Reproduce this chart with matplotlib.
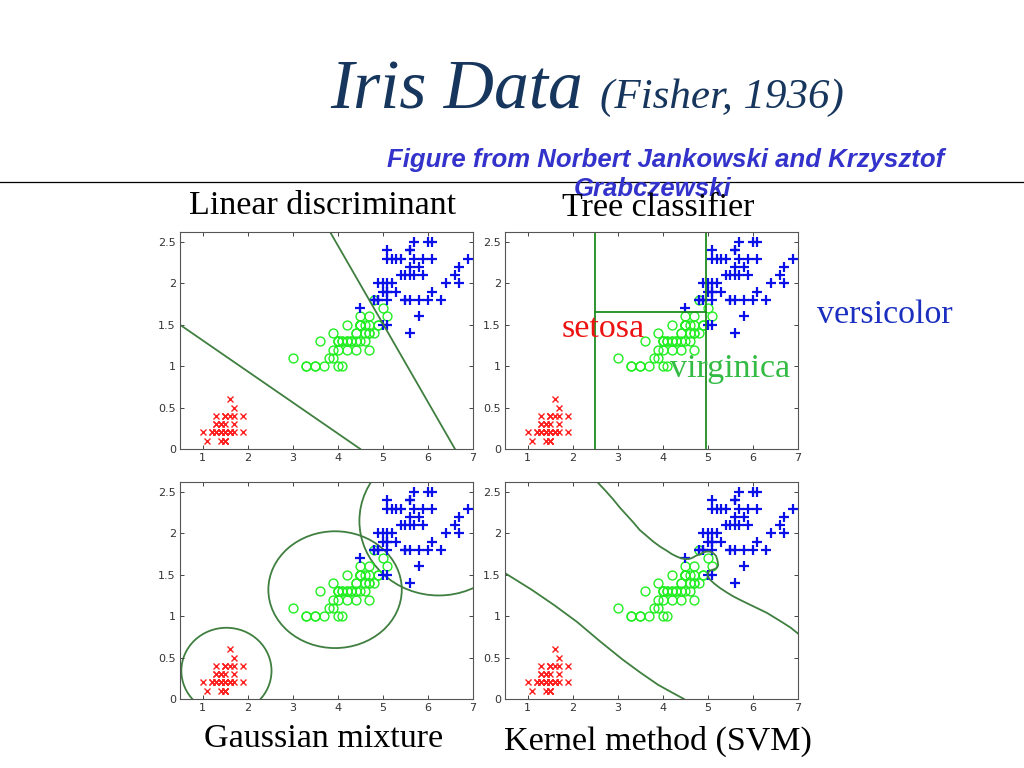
import matplotlib
matplotlib.use("Agg")
import matplotlib.pyplot as plt
from matplotlib.patches import Ellipse

# ---------------- data: Iris petal length / width ----------------
setosa_len = [1.4,1.4,1.3,1.5,1.4,1.7,1.4,1.5,1.4,1.5,1.5,1.6,1.4,1.1,1.2,1.5,1.3,1.4,1.7,1.5,
              1.7,1.5,1.0,1.7,1.9,1.6,1.6,1.5,1.4,1.6,1.6,1.5,1.5,1.4,1.5,1.2,1.3,1.5,1.3,1.5,
              1.3,1.3,1.3,1.6,1.9,1.4,1.6,1.4,1.5,1.4]
setosa_wid = [0.2,0.2,0.2,0.2,0.2,0.4,0.3,0.2,0.2,0.1,0.2,0.2,0.1,0.1,0.2,0.4,0.4,0.3,0.3,0.3,
              0.2,0.4,0.2,0.5,0.2,0.2,0.4,0.2,0.2,0.2,0.2,0.4,0.1,0.2,0.1,0.2,0.2,0.1,0.2,0.2,
              0.3,0.3,0.2,0.6,0.4,0.3,0.2,0.2,0.2,0.2]
versi_len = [4.7,4.5,4.9,4.0,4.6,4.5,4.7,3.3,4.6,3.9,3.5,4.2,4.0,4.7,3.6,4.4,4.5,4.1,4.5,3.9,
             4.8,4.0,4.9,4.7,4.3,4.4,4.8,5.0,4.5,3.5,3.8,3.7,3.9,5.1,4.5,4.5,4.7,4.4,4.1,4.0,
             4.4,4.6,4.0,3.3,4.2,4.2,4.2,4.3,3.0,4.1]
versi_wid = [1.4,1.5,1.5,1.3,1.5,1.3,1.6,1.0,1.3,1.4,1.0,1.5,1.0,1.4,1.3,1.4,1.5,1.0,1.5,1.1,
             1.8,1.3,1.5,1.2,1.3,1.4,1.4,1.7,1.5,1.0,1.1,1.0,1.2,1.6,1.5,1.6,1.5,1.3,1.3,1.3,
             1.2,1.4,1.2,1.0,1.3,1.2,1.3,1.3,1.1,1.3]
virg_len = [6.0,5.1,5.9,5.6,5.8,6.6,4.5,6.3,5.8,6.1,5.1,5.3,5.5,5.0,5.1,5.3,5.5,6.7,6.9,5.0,
            5.7,4.9,6.7,4.9,5.7,6.0,4.8,4.9,5.6,5.8,6.1,6.4,5.6,5.1,5.6,6.1,5.6,5.5,4.8,5.4,
            5.6,5.1,5.1,5.9,5.7,5.2,5.0,5.2,5.4,5.1]
virg_wid = [2.5,1.9,2.1,1.8,2.2,2.1,1.7,1.8,1.8,2.5,2.0,1.9,2.1,2.0,2.4,2.3,1.8,2.2,2.3,1.5,
            2.3,2.0,2.0,1.8,2.1,1.8,1.8,1.8,2.1,1.6,1.9,2.0,2.2,1.5,1.4,2.3,2.4,1.8,1.8,2.1,
            2.4,2.3,1.9,2.3,2.5,2.3,1.9,2.0,2.3,1.8]

# ---------------- decision boundaries ----------------
lin_b1_x = [0.5, 4.5]
lin_b1_y = [1.5, 0.0]
lin_b2_x = [3.83, 6.6]
lin_b2_y = [2.62, 0.0]

tree_v1_x = [2.5, 2.5]
tree_v1_y = [0.0, 2.62]
tree_v2_x = [4.95, 4.95]
tree_v2_y = [0.0, 2.62]
tree_h_x = [2.5, 4.95]
tree_h_y = [1.65, 1.65]

gmm_cx = [1.53, 3.94, 6.24]
gmm_cy = [0.34, 1.32, 2.15]
gmm_w = [2.0, 2.96, 3.52]
gmm_h = [1.04, 1.41, 1.80]

svm_b1_x = [0.5, 1.09, 1.6, 2.1, 2.6, 3.1, 3.5, 3.9, 4.2, 4.47]
svm_b1_y = [1.52, 1.32, 1.13, 0.93, 0.70, 0.48, 0.32, 0.17, 0.08, 0.0]
svm_b2_x = [2.53, 2.72, 2.90, 3.05, 3.20, 3.35, 3.49, 3.64, 3.79, 3.94, 4.09, 4.20, 4.31,
            4.40, 4.49, 4.57, 4.64, 4.74, 4.83, 4.90, 4.97, 5.05, 5.12, 5.18, 5.21, 5.23,
            5.21, 5.16, 5.10, 5.05, 5.01, 4.99, 5.01, 5.05, 5.15, 5.27, 5.41, 5.56, 5.74,
            5.93, 6.12, 6.31, 6.49, 6.67, 6.84, 7.0]
svm_b2_y = [2.63, 2.52, 2.41, 2.31, 2.22, 2.13, 2.04, 1.97, 1.90, 1.84, 1.79, 1.75, 1.72,
            1.70, 1.69, 1.69, 1.70, 1.73, 1.75, 1.77, 1.78, 1.78, 1.76, 1.73, 1.68, 1.62,
            1.59, 1.57, 1.56, 1.55, 1.53, 1.50, 1.47, 1.44, 1.39, 1.34, 1.29, 1.24, 1.19,
            1.14, 1.09, 1.04, 0.98, 0.92, 0.86, 0.79]

x_ticks = [1, 2, 3, 4, 5, 6, 7]
y_ticks = [0, 0.5, 1, 1.5, 2, 2.5]
y_ticklabels = ["0", "0.5", "1", "1.5", "2", "2.5"]

panel_titles = ["Linear discriminant", "Tree classifier", "Gaussian mixture", "Kernel method (SVM)"]

# ---------------- styling ----------------
W, H = 1024, 768
fig = plt.figure(figsize=(W / 100, H / 100), dpi=100)
fig.patch.set_facecolor("white")

RED = "#ff2020"
GREEN = "#22ee22"
BLUE = "#0a10e8"
BND = "#3f7f3f"
TREE = "#1e8c1e"


def px_axes(left, top, right, bottom):
    return fig.add_axes([left / W, 1 - bottom / H, (right - left) / W, (bottom - top) / H])


def setup(ax):
    ax.plot(setosa_len, setosa_wid, linestyle="none", marker="x", color=RED, ms=4.2, mew=1.0)
    ax.plot(versi_len, versi_wid, linestyle="none", marker="o", mfc="none", mec=GREEN, ms=6.4, mew=1.0)
    ax.plot(virg_len, virg_wid, linestyle="none", marker="+", color=BLUE, ms=7.0, mew=1.6)
    ax.set_xlim(0.5, 7)
    ax.set_ylim(0, 2.62)
    ax.set_xticks(x_ticks)
    ax.set_yticks(y_ticks)
    ax.set_yticklabels(y_ticklabels)
    ax.tick_params(direction="in", top=True, right=True, length=3, width=0.7,
                   labelsize=8, labelcolor="#333333", color="#444444", pad=3)
    for s in ax.spines.values():
        s.set_color("#555555")
        s.set_linewidth(0.8)


ax1 = px_axes(180, 232, 473, 449)
ax2 = px_axes(505, 232, 798, 449)
ax3 = px_axes(180, 482, 473, 699)
ax4 = px_axes(505, 482, 798, 699)

for ax in (ax1, ax2, ax3, ax4):
    setup(ax)

ax1.plot(lin_b1_x, lin_b1_y, color=BND, lw=1.3)
ax1.plot(lin_b2_x, lin_b2_y, color=BND, lw=1.3)

ax2.plot(tree_v1_x, tree_v1_y, color=TREE, lw=1.3)
ax2.plot(tree_v2_x, tree_v2_y, color=TREE, lw=1.3)
ax2.plot(tree_h_x, tree_h_y, color=TREE, lw=1.3)

for cx, cy, w, h in zip(gmm_cx, gmm_cy, gmm_w, gmm_h):
    ax3.add_patch(Ellipse((cx, cy), w, h, fill=False, edgecolor=BND, lw=1.3))

ax4.plot(svm_b1_x, svm_b1_y, color=BND, lw=1.3, solid_joinstyle="round")
ax4.plot(svm_b2_x, svm_b2_y, color=BND, lw=1.3, solid_joinstyle="round")

# ---------------- slide texts ----------------
TITLE_C = "#17365d"
fig.text(330 / W, 1 - 92 / H, "Iris Data", fontsize=50, style="italic",
         family="Liberation Serif", color=TITLE_C, ha="left", va="center")
fig.text(600 / W, 1 - 98 / H, "(Fisher, 1936)", fontsize=31, style="italic",
         family="Liberation Serif", color=TITLE_C, ha="left", va="center")

fig.text(666 / W, 1 - 160 / H, "Figure from Norbert Jankowski and Krzysztof",
         fontsize=18.5, style="italic", weight="bold", family="Liberation Sans",
         color="#3333cc", ha="center", va="center")
fig.text(653 / W, 1 - 189 / H, "Grabczewski",
         fontsize=18.5, style="italic", weight="bold", family="Liberation Sans",
         color="#3333cc", ha="center", va="center")

fig.add_artist(plt.Line2D([0, 1], [1 - 182 / H, 1 - 182 / H], color="black", lw=0.9))

SERIF = 24.5
fig.text(323 / W, 1 - 206 / H, panel_titles[0], fontsize=SERIF, family="Liberation Serif",
         ha="center", va="center", color="black")
fig.text(658 / W, 1 - 208 / H, panel_titles[1], fontsize=SERIF, family="Liberation Serif",
         ha="center", va="center", color="black")
fig.text(324 / W, 1 - 739 / H, panel_titles[2], fontsize=SERIF, family="Liberation Serif",
         ha="center", va="center", color="black")
fig.text(658 / W, 1 - 741 / H, panel_titles[3], fontsize=SERIF, family="Liberation Serif",
         ha="center", va="center", color="black")

fig.text(603 / W, 1 - 329 / H, "setosa", fontsize=SERIF, family="Liberation Serif",
         ha="center", va="center", color="#ee1111")
fig.text(730 / W, 1 - 369 / H, "virginica", fontsize=SERIF, family="Liberation Serif",
         ha="center", va="center", color="#33bb44")
fig.text(885 / W, 1 - 315 / H, "versicolor", fontsize=SERIF, family="Liberation Serif",
         ha="center", va="center", color="#1a2fbf")

fig.savefig("out.png", dpi=100)
